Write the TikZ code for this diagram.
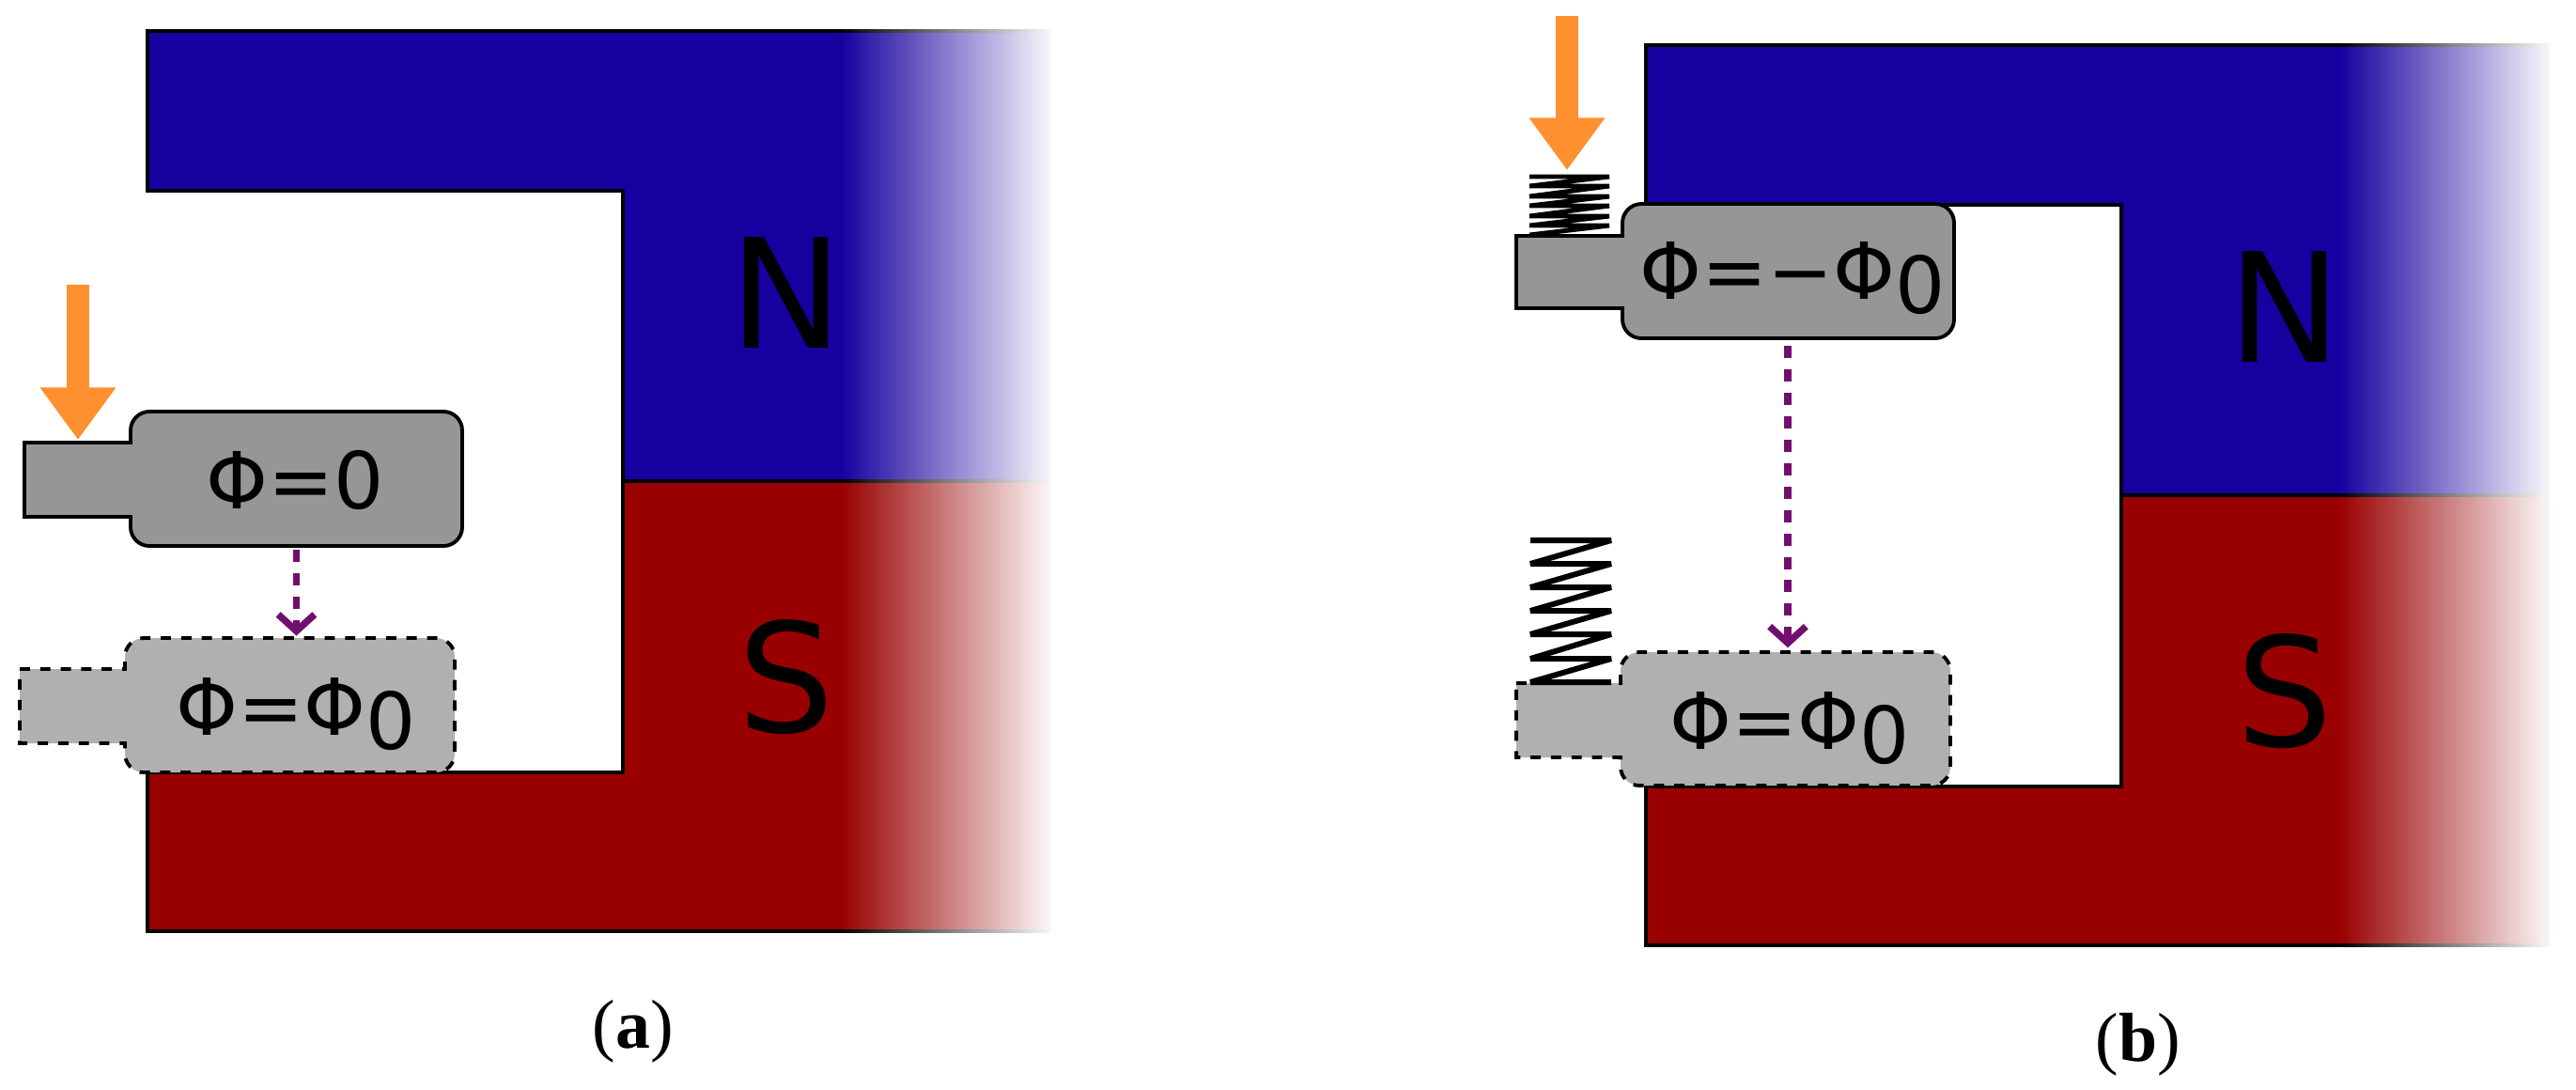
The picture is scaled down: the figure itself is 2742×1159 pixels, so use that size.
\documentclass[tikz,border=0pt]{standalone}
\usepackage{fontspec}
\setmainfont{Liberation Serif}
\newfontfamily\dejavu{DejaVu Sans}
\usetikzlibrary{arrows.meta,fadings}
\definecolor{northblue}{HTML}{16009F}
\definecolor{southred}{HTML}{990000}
\definecolor{keygray}{HTML}{969696}
\definecolor{ghostgray}{HTML}{B0B0B0}
\definecolor{pressorange}{HTML}{FF9030}
\definecolor{movepurple}{HTML}{720F6E}
\tikzfading[name=fadeeast,left color=transparent!100,right color=transparent!0]
\tikzset{
  magnet/.style={draw=black,line width=1.25pt},
  pole/.style={font=\dejavu\fontsize{46}{55}\selectfont,inner sep=0pt},
  keyshape/.style={draw=black,line width=1.1pt,fill=keygray},
  ghostshape/.style={draw=black,line width=1.1pt,fill=ghostgray,dash pattern=on 3.1pt off 3.1pt},
  keybox/.style={inner sep=0pt,minimum width=3.53cm,minimum height=1.43cm},
  flux/.style={font=\dejavu\fontsize{23.8}{28}\selectfont,inner sep=0pt,anchor=base},
  press/.style={draw=pressorange,line width=6.8pt,-{Triangle[length=15.8pt,width=21.9pt]}},
  move/.style={draw=movepurple,line width=2.1pt,dash pattern=on 3.7pt off 3.4pt,-{Straight Barb[length=5pt,width=11pt]}},
  coil/.style={draw=black,line join=bevel},
  caption/.style={font=\fontsize{21}{25}\selectfont,inner sep=0pt}
}
\newcommand{\subzero}{\raisebox{-4.3pt}{0}}
\begin{document}
\begin{tikzpicture}[x=0.01cm,y=-0.01cm]
    \useasboundingbox (0,0) rectangle (2742,1159);
    % the two magnets
    \foreach \dx/\dy/\tag in {0/0/a,1595/15/b} {
        \begin{scope}[shift={(\dx,\dy)}]
            \draw[magnet,fill=northblue] (157,33) -- (1117,33) -- (1117,512) -- (663,512) -- (663,203) -- (157,203) -- cycle;
            \draw[magnet,fill=southred] (157,991) -- (1117,991) -- (1117,512) -- (663,512) -- (663,822) -- (157,822) -- cycle;
            \fill[white,path fading=fadeeast] (895,25) rectangle (1125,1000);
            \node[pole] (north\tag) at (837,312) {N};
            \node[pole] (south\tag) at (837,721) {S};
        \end{scope}
    }
    % left panel
    \draw[keyshape] (26,471) -- (139,471) [rounded corners=5.7pt] -- (139,438) -- (492,438) -- (492,581) -- (139,581) [sharp corners] -- (139,550) -- (26,550) -- cycle;
    \draw[ghostshape] (21,712) -- (133,712) [rounded corners=5.7pt] -- (133,679) -- (484,679) -- (484,822) -- (133,822) [sharp corners] -- (133,791) -- (21,791) -- cycle;
    \node[keybox] (keya) at (315.5,509.5) {};
    \node[keybox] (ghosta) at (308.5,750.5) {};
    \node[flux] (fluxa) at (314,541) {Φ=0};
    \node[flux] (fluxghosta) at (315,782) {Φ=Φ\subzero};
    \coordinate (pressa) at (83,303);
    \coordinate (tipa) at (83,468);
    \draw[press] (pressa) -- (tipa);
    \draw[move,shorten <=1pt,shorten >=0.5pt] (keya.south) -- (keya.south |- ghosta.north);
    % right panel
    \draw[keyshape] (1614,251) -- (1727,251) [rounded corners=5.7pt] -- (1727,217) -- (2080,217) -- (2080,360) -- (1727,360) [sharp corners] -- (1727,328) -- (1614,328) -- cycle;
    \draw[ghostshape] (1614,727) -- (1725,727) [rounded corners=5.7pt] -- (1725,694) -- (2076,694) -- (2076,836) -- (1725,836) [sharp corners] -- (1725,806) -- (1614,806) -- cycle;
    \node[keybox] (keyb) at (1903,288.5) {};
    \node[keybox] (ghostb) at (1900.5,765) {};
    \node[flux] (fluxb) at (1908,318) {Φ=−Φ\subzero};
    \node[flux] (fluxghostb) at (1905,797) {Φ=Φ\subzero};
    \coordinate (pressb) at (1668,17);
    \coordinate (tipb) at (1668,181);
    \draw[press] (pressb) -- (tipb);
    \draw[move,shorten <=2pt,shorten >=1pt] (keyb.south) -- (keyb.south |- ghostb.north);
    % springs
    \draw[coil,line width=1.4pt] (1628,188) -- (1713,188) -- (1628,198) -- (1713,198) -- (1628,209) -- (1713,209) -- (1628,219) -- (1713,219) -- (1628,230) -- (1713,230) -- (1628,240) -- (1713,240) -- (1628,250);
    \draw[coil,line width=1.7pt] (1629,575) -- (1715,575) -- (1629,600) -- (1715,600) -- (1629,625) -- (1715,625) -- (1629,650) -- (1715,650) -- (1629,675) -- (1715,675) -- (1629,701) -- (1715,701) -- (1629,726) -- (1715,726);
    % captions
    \node[caption] (capa) at (674,1098) {(\textbf{a})};
    \node[caption] (capb) at (2276,1112) {(\textbf{b})};
\end{tikzpicture}
\end{document}
